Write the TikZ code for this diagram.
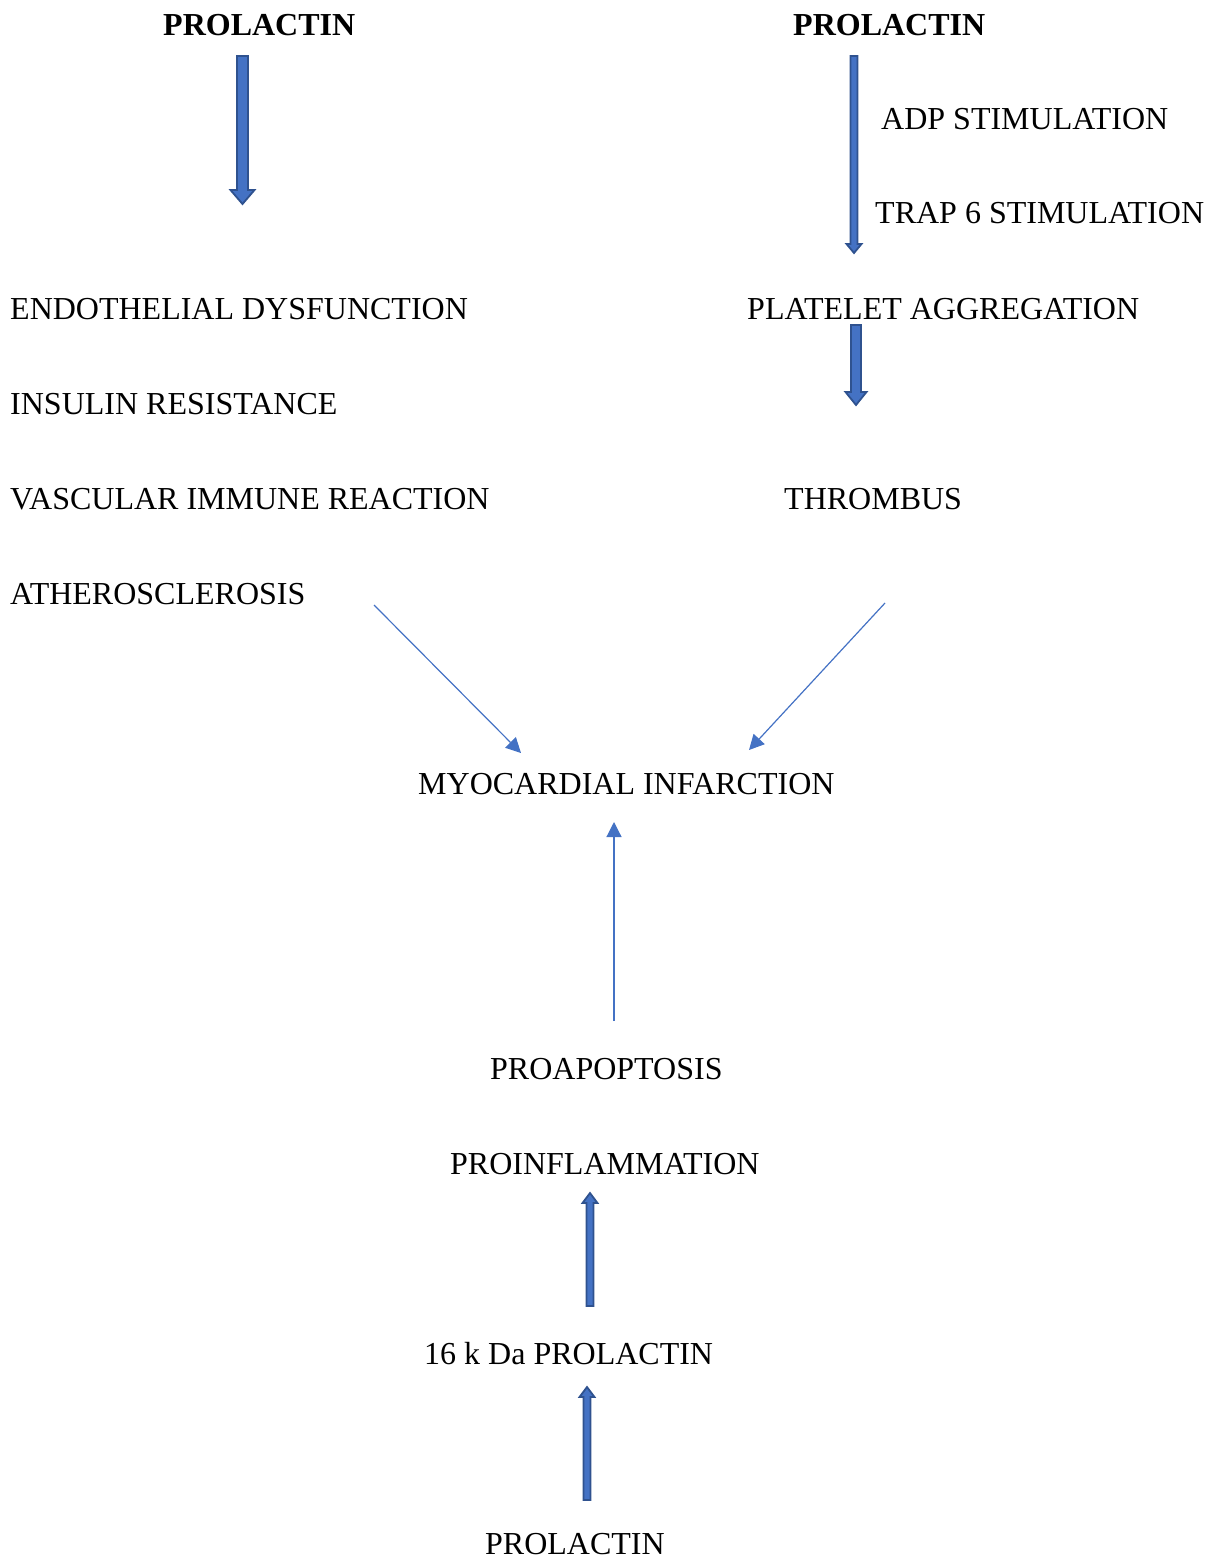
\documentclass[tikz,border=0pt]{standalone}
\usepackage{fontspec}
\setmainfont{Liberation Serif}
\usetikzlibrary{arrows.meta,calc}
\definecolor{blkfill}{HTML}{4472C4}
\definecolor{blkline}{HTML}{2F528F}
\tikzset{
  lbl/.style={anchor=base west, inner sep=0pt, font=\fontsize{32}{38}\selectfont},
  boldlbl/.style={lbl, font=\fontsize{32}{38}\selectfont\bfseries},
  thinarrow/.style={draw=blkfill, line width=1.2pt, -{Triangle[length=15pt,width=15pt]}},
  blk/.style={fill=blkfill, draw=blkline, line width=1.8pt, line join=miter}
}
% block arrow: from, to, shaft half-width, head half-width, head length
\newcommand\blockarrow[5]{%
  \draw[blk] let \p1=(#1), \p2=(#2), \n1={sign(\y2-\y1)} in
    ({\x1-#3},\y1) -- ({\x1+#3},\y1) -- ({\x1+#3},{\y2-\n1*#5}) -- ({\x1+#4},{\y2-\n1*#5})
    -- (\x1,\y2) -- ({\x1-#4},{\y2-\n1*#5}) -- ({\x1-#3},{\y2-\n1*#5}) -- cycle;}
\begin{document}
\begin{tikzpicture}[x=1pt,y=-1pt]
\useasboundingbox (0,0) rectangle (1215,1558);
% texts
\node[boldlbl] (p1) at (163,35) {PROLACTIN};
\node[boldlbl] (p2) at (793,35) {PROLACTIN};
\node[lbl] (adp) at (881,129) {ADP STIMULATION};
\node[lbl] (trap) at (875,223) {TRAP 6 STIMULATION};
\node[lbl] (endo) at (10,319) {ENDOTHELIAL DYSFUNCTION};
\node[lbl] (plat) at (747,319) {PLATELET AGGREGATION};
\node[lbl] (ins) at (10,414) {INSULIN RESISTANCE};
\node[lbl] (vasc) at (10,509) {VASCULAR IMMUNE REACTION};
\node[lbl] (thr) at (784,509) {THROMBUS};
\node[lbl] (ath) at (10,604) {ATHEROSCLEROSIS};
\node[lbl] (mi) at (418,794) {MYOCARDIAL INFARCTION};
\node[lbl] (pap) at (490,1079) {PROAPOPTOSIS};
\node[lbl] (pinf) at (450,1174) {PROINFLAMMATION};
\node[lbl] (k16) at (424,1364) {16 k Da PROLACTIN};
\node[lbl] (p3) at (485,1554) {PROLACTIN};
% arrow end points
\coordinate (a1s) at (242.5,56);  \coordinate (a1e) at (242.5,204);
\coordinate (a2s) at (854,56);    \coordinate (a2e) at (854,253);
\coordinate (a3s) at (856,325);   \coordinate (a3e) at (856,405);
\coordinate (a4s) at (590,1306);  \coordinate (a4e) at (590,1193);
\coordinate (a5s) at (587,1500);  \coordinate (a5e) at (587,1387);
\coordinate (t1s) at (374,605);   \coordinate (t1e) at (521,753);
\coordinate (t2s) at (885,603);   \coordinate (t2e) at (749,750);
\coordinate (t3s) at (614,1021);  \coordinate (t3e) at (614,822);
% block arrows
\blockarrow{a1s}{a1e}{5.5}{12}{14}
\blockarrow{a2s}{a2e}{3.5}{7.5}{9}
\blockarrow{a3s}{a3e}{5}{10.5}{13}
\blockarrow{a4s}{a4e}{3.5}{7.5}{10}
\blockarrow{a5s}{a5e}{3.5}{7.5}{10}
% thin arrows
\draw[thinarrow] (t1s) -- (t1e);
\draw[thinarrow] (t2s) -- (t2e);
\draw[thinarrow] (t3s) -- (t3e);
\end{tikzpicture}
\end{document}
